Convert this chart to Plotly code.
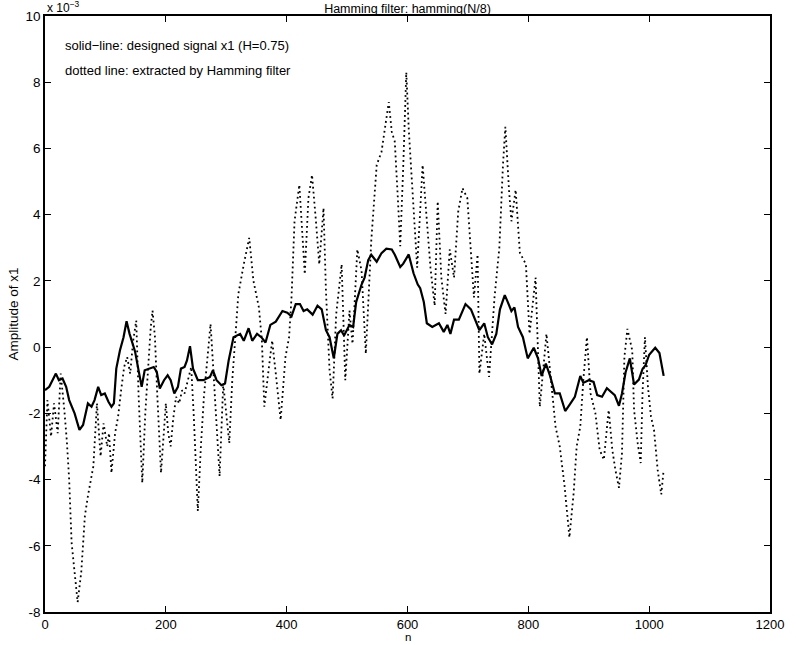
import plotly.graph_objects as go

# Designed signal x1 (H=0.75), amplitude in units of 1e-3
n_solid = [0, 7, 18, 23, 29, 35, 40, 49, 57, 63, 71, 77, 82, 88, 93, 99, 105, 110, 114, 118,
           124, 130, 135, 140, 149, 154, 160, 165, 174, 180, 185, 190, 197, 203, 208, 214, 220,
           225, 231, 235, 240, 245, 253, 262, 273, 278, 284, 292, 298, 304, 312, 323, 329, 337,
           343, 351, 358, 365, 373, 382, 393, 401, 408, 415, 422, 428, 434, 443, 451, 458, 465,
           471, 478, 484, 490, 495, 504, 510, 515, 524, 529, 535, 540, 549, 557, 565, 574, 579,
           588, 593, 602, 610, 617, 621, 627, 632, 641, 652, 660, 666, 671, 677, 685, 696, 705,
           713, 719, 727, 733, 740, 747, 753, 761, 766, 772, 777, 783, 791, 799, 809, 816, 822,
           829, 836, 844, 852, 861, 869, 877, 886, 891, 900, 908, 914, 922, 930, 936, 943, 950,
           955, 961, 968, 975, 983, 989, 994, 1000, 1010, 1017, 1024]
x1_solid = [-1.3, -1.2, -0.8, -1.0, -0.95, -1.2, -1.6, -2.0, -2.5, -2.35, -1.7, -1.8, -1.6, -1.2,
            -1.45, -1.4, -1.65, -1.8, -1.7, -0.65, -0.1, 0.3, 0.78, 0.4, -0.13, -0.65, -1.2, -0.7,
            -0.65, -0.6, -0.75, -1.25, -1.0, -0.85, -1.0, -1.4, -1.2, -0.65, -0.6, -0.4, 0.03,
            -0.65, -1.0, -1.0, -0.9, -0.7, -1.0, -1.15, -1.1, -0.4, 0.3, 0.4, 0.19, 0.57, 0.19,
            0.4, 0.3, 0.14, 0.67, 0.77, 1.09, 1.04, 0.93, 1.3, 1.3, 1.09, 1.14, 0.98, 1.25, 1.14,
            0.51, 0.3, -0.34, 0.4, 0.51, 0.35, 0.67, 0.61, 1.36, 1.89, 2.1, 2.63, 2.79, 2.58, 2.84,
            2.97, 2.95, 2.79, 2.42, 2.52, 2.8, 2.23, 1.89, 1.78, 1.36, 0.72, 0.61, 0.72, 0.46,
            0.67, 0.4, 0.83, 0.83, 1.3, 1.14, 0.77, 0.51, 0.72, 0.3, 0.08, 0.4, 1.14, 1.57, 1.36,
            1.09, 1.2, 0.61, 0.3, -0.34, -0.02, -0.34, -0.87, -0.5, -0.87, -1.4, -1.4, -1.93,
            -1.72, -1.5, -0.87, -1.08, -1.0, -1.05, -1.45, -1.5, -1.24, -1.35, -1.45, -1.77, -1.4,
            -0.76, -0.34, -1.13, -0.98, -0.66, -0.55, -0.23, -0.02, -0.18, -0.87]

# Signal extracted by the Hamming filter, amplitude in units of 1e-3
n_dot = [0, 4, 10, 15, 21, 26, 32, 36, 40, 44, 49, 54, 60, 66, 71, 77, 80, 86, 92, 97, 103, 106,
         110, 116, 121, 126, 131, 136, 141, 146, 151, 155, 158, 161, 166, 171, 175, 178, 182, 186,
         190, 192, 197, 200, 204, 208, 212, 217, 222, 227, 231, 236, 242, 246, 250, 253, 258, 263,
         268, 274, 279, 284, 289, 295, 300, 305, 310, 315, 320, 329, 338, 345, 354, 359, 363, 370,
         376, 382, 390, 398, 404, 408, 413, 421, 426, 430, 436, 442, 448, 454, 461, 465, 471, 476,
         482, 491, 497, 504, 509, 517, 524, 531, 540, 549, 557, 563, 569, 574, 579, 584, 588, 593,
         598, 602, 607, 616, 625, 632, 638, 645, 650, 656, 663, 670, 677, 684, 691, 699, 705, 710,
         716, 719, 727, 735, 744, 752, 758, 762, 768, 772, 779, 786, 796, 802, 812, 819, 830, 838,
         845, 852, 860, 868, 875, 880, 886, 891, 897, 903, 911, 918, 925, 933, 939, 944, 950, 955,
         959, 964, 972, 975, 981, 986, 989, 993, 998, 1003, 1008, 1014, 1020, 1024]
x1_dot = [-3.6, -1.6, -2.7, -1.7, -2.6, -0.8, -1.9, -2.8, -4.0, -5.9, -6.8, -7.7, -6.8, -5.1, -4.5,
          -3.9, -3.6, -1.7, -3.3, -2.3, -3.0, -2.6, -3.8, -2.6, -2.1, -1.3, -0.6, -0.3, -0.8, 0.2,
          0.8, -1.5, -3.0, -4.1, -2.0, -0.5, 0.6, 1.1, 0.3, -1.5, -3.0, -3.8, -2.5, -1.7, -2.6,
          -3.0, -2.2, -1.5, -1.7, -1.3, -1.4, -1.0, -0.6, -2.0, -3.5, -4.95, -3.0, -1.5, -0.5, 0.7,
          -0.8, -2.5, -3.9, -1.1, -2.0, -2.9, -1.0, 0.2, 1.6, 2.5, 3.3, 2.0, 1.2, 0.2, -1.8, -0.7,
          0.2, -0.8, -2.2, -0.3, 0.3, 1.5, 3.8, 4.9, 3.4, 2.2, 4.5, 5.2, 3.9, 2.5, 4.2, 1.7, -0.7,
          -1.55, 1.0, 2.5, -1.0, 1.1, 0.1, 2.95, 2.3, -0.2, 3.2, 5.5, 5.9, 6.6, 7.4, 6.5, 6.2, 4.5,
          3.05, 5.5, 8.3, 6.6, 5.0, 2.4, 5.5, 3.8, 2.4, 1.25, 4.4, 2.1, 1.0, 2.95, 2.1, 4.1, 4.8,
          4.5, 2.95, 1.5, 2.8, -0.8, 0.4, -0.9, 1.5, 3.0, 5.5, 6.65, 4.75, 3.8, 4.75, 2.85, 2.5,
          0.4, 2.1, -1.8, 0.4, -1.0, -2.4, -3.0, -4.2, -5.75, -4.4, -3.0, -2.4, -1.0, 0.3, -1.4,
          -2.0, -3.1, -3.4, -1.9, -3.1, -3.7, -4.25, -3.2, -0.3, 0.55, -0.1, -1.9, -2.9, -3.5,
          -1.4, 0.3, -1.2, -2.1, -2.5, -3.7, -4.45, -3.7]

x_ticks = [0, 200, 400, 600, 800, 1000, 1200]
y_ticks = [-8, -6, -4, -2, 0, 2, 4, 6, 8, 10]

FONT = "Liberation Sans, Arial, sans-serif"

fig = go.Figure()
fig.add_trace(go.Scatter(x=n_dot, y=x1_dot, mode="lines",
                         line=dict(color="black", width=1.8, dash="1.8px,3.2px"),
                         name="extracted by Hamming filter"))
fig.add_trace(go.Scatter(x=n_solid, y=x1_solid, mode="lines",
                         line=dict(color="black", width=2.2),
                         name="designed signal x1"))

axis_common = dict(showgrid=False, zeroline=False, showline=True, linecolor="black",
                   linewidth=1.6, mirror="allticks", ticks="inside", ticklen=6,
                   tickwidth=1.2, tickcolor="black")

fig.update_xaxes(range=[0, 1200], tickvals=x_ticks, ticktext=[str(t) for t in x_ticks],
                 tickfont=dict(family=FONT, size=13, color="black"),
                 automargin=False, **axis_common)
fig.update_yaxes(range=[-8, 10], tickvals=y_ticks, ticktext=[str(t) for t in y_ticks],
                 tickfont=dict(family=FONT, size=13.5, color="black"),
                 title=dict(text="Amplitude of x1", font=dict(family=FONT, size=13.5, color="black"),
                            standoff=4),
                 automargin=False, **axis_common)

# x-axis label sitting on the bottom edge, under the tick labels
fig.add_annotation(x=0.5, y=0, xref="paper", yref="paper", xanchor="center", yanchor="bottom",
                   yshift=-33, text="n", showarrow=False,
                   font=dict(family=FONT, size=11.5, color="black"))

fig.add_annotation(x=30, y=9.1, xref="x", yref="y", xanchor="left", yanchor="middle",
                   text="solid\u2212line: designed signal x1 (H=0.75)", showarrow=False,
                   font=dict(family=FONT, size=13, color="black"))
fig.add_annotation(x=30, y=8.35, xref="x", yref="y", xanchor="left", yanchor="middle",
                   text="dotted line: extracted by Hamming filter", showarrow=False,
                   font=dict(family=FONT, size=13, color="black"))
fig.add_annotation(x=0, y=1, xref="paper", yref="paper", xanchor="left", yanchor="bottom",
                   xshift=0, yshift=-1, text="x 10<sup>\u22123</sup>", showarrow=False,
                   font=dict(family=FONT, size=12, color="black"))

fig.update_layout(
    width=811, height=645,
    margin=dict(l=45, r=41, t=16, b=33),
    paper_bgcolor="white", plot_bgcolor="white",
    showlegend=False,
    title=dict(text="Hamming filter: hamming(N/8)", x=0.5, xref="paper", xanchor="center",
               y=1, yref="paper", yanchor="bottom", pad=dict(b=3),
               font=dict(family=FONT, size=12.5, color="black")),
)

fig.write_html("out.html")
